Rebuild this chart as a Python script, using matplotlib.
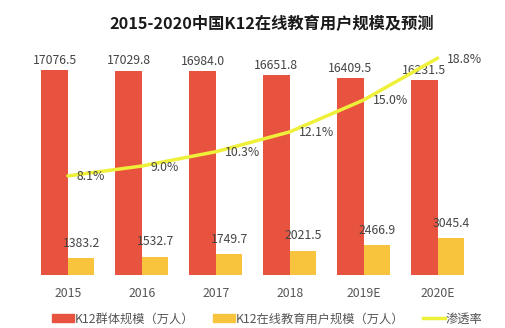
import numpy as np
import matplotlib.pyplot as plt
from matplotlib.patches import Patch
from matplotlib.lines import Line2D

plt.rcParams['font.family'] = ['Noto Sans CJK SC', 'DejaVu Sans']

# données
years = ["2015", "2016", "2017", "2018", "2019E", "2020E"]
k12_total = [17076.5, 17029.8, 16984.0, 16651.8, 16409.5, 16231.5]
k12_online = [1383.2, 1532.7, 1749.7, 2021.5, 2466.9, 3045.4]
penetration = [8.1, 9.0, 10.3, 12.1, 15.0, 18.8]

red = "#E8533F"
yellow = "#F8C43E"
line_yellow = "#EEF03A"
txt = "#444444"

fig = plt.figure(figsize=(5.06, 3.28), dpi=100)
ax = fig.add_axes([0.061, 0.1616, 0.877, 0.7165])
x = np.arange(len(years))
w = 0.36

b1 = ax.bar(x - w / 2, k12_total, w, color=red)
b2 = ax.bar(x + w / 2, k12_online, w, color=yellow)
ax.set_xlim(-0.5, 5.5)
ax.set_ylim(0, 19600)

for xi, v in zip(x, k12_total):
    ax.annotate(f"{v:.1f}", (xi - w / 2, v), xytext=(0, 10), textcoords="offset pixels",
                ha="center", va="center", fontsize=8.8, color=txt)
for xi, v in zip(x, k12_online):
    ax.annotate(f"{v:.1f}", (xi + w / 2, v), xytext=(0, 15), textcoords="offset pixels",
                ha="center", va="center", fontsize=8.8, color=txt)

ax.set_xticks(x)
ax.set_xticklabels(years, fontsize=8.8, color="#555555")
ax.tick_params(axis="x", length=0, pad=9)
ax.set_yticks([])
for s in ax.spines.values():
    s.set_visible(False)

# taux de pénétration
ax2 = ax.twinx()
ax2.plot(x, penetration, color=line_yellow, lw=2.5, solid_capstyle="round")
ax2.set_ylim(-0.9, 20.45)
for xi, v in zip(x, penetration):
    ax2.annotate(f"{v:.1f}%", (xi, v), xytext=(9, -1), textcoords="offset pixels",
                 ha="left", va="center", fontsize=8.8, color=txt)
ax2.set_yticks([])
for s in ax2.spines.values():
    s.set_visible(False)

fig.text(0.536, 0.927, "2015-2020中国K12在线教育用户规模及预测", ha="center", va="center",
         fontsize=11.7, fontweight="bold", color="#1A1A1A")

handles = [Patch(color=red), Patch(color=yellow), Line2D([], [], color=line_yellow, lw=2.5)]
labels = ["K12群体规模（万人）", "K12在线教育用户规模（万人）", "渗透率"]
fig.legend(handles, labels, loc="center", bbox_to_anchor=(0.528, 0.028), ncol=3, frameon=False,
           fontsize=8.8, handlelength=1.8, handletextpad=0.1, columnspacing=1.5,
           labelcolor="#555555")

fig.savefig("out.png", dpi=100)
